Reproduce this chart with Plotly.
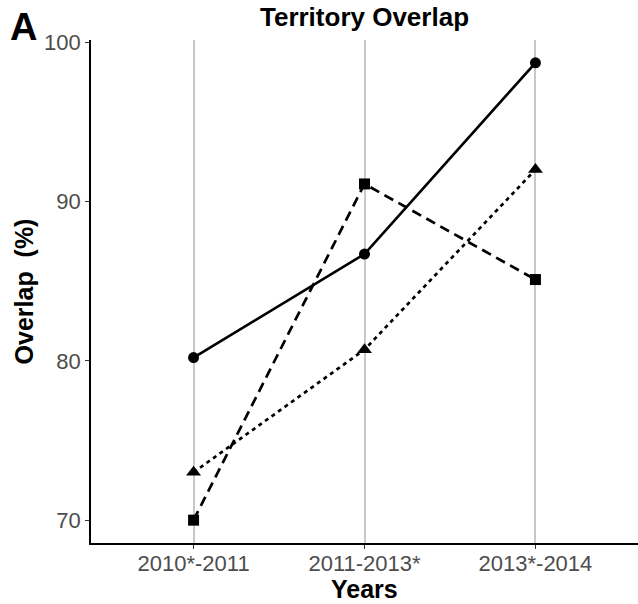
import plotly.graph_objects as go

years = ["2010*-2011", "2011-2013*", "2013*-2014"]
circle_vals = [80.2, 86.7, 98.7]
triangle_vals = [73.0, 80.7, 92.0]
square_vals = [70.0, 91.1, 85.1]
y_ticks = [70, 80, 90, 100]

series = [
    (circle_vals, "circle", "solid", 11),
    (square_vals, "square", "10px,6px", 11),
    (triangle_vals, "triangle-up", "4px,4px", 13),
]

fig = go.Figure()
for vals, sym, dash, msize in series:
    fig.add_trace(go.Scatter(
        x=years, y=vals, mode="lines+markers",
        line=dict(color="black", width=2.7, dash=dash),
        marker=dict(symbol=sym, size=msize, color="black"),
        showlegend=False,
    ))

ymin, ymax = min(square_vals), max(circle_vals)
pad = (ymax - ymin) * 0.05

plot_h = 604 - 40 - 61

fig.update_layout(
    width=638, height=604,
    margin=dict(l=91, r=0, t=40, b=61),
    paper_bgcolor="white", plot_bgcolor="white",
    font=dict(family="Liberation Sans, Arial, sans-serif", color="black"),
    title=dict(text="<b>Territory Overlap</b>", x=0.5, xref="paper",
               y=1, yref="paper", yanchor="bottom", pad=dict(b=14),
               font=dict(size=26, color="black")),
    xaxis=dict(
        type="category", range=[-0.6, 2.6],
        showgrid=True, gridcolor="#c8c8c8", gridwidth=1.6,
        showline=True, linecolor="black", linewidth=1.6,
        ticks="outside", ticklen=4, tickcolor="#333333", tickwidth=1.3,
        ticklabelstandoff=-4,
        tickfont=dict(size=22, color="#4d4d4d"),
        zeroline=False,
    ),
    yaxis=dict(
        range=[ymin - pad, ymax + pad],
        tickvals=y_ticks,
        showgrid=False,
        showline=True, linecolor="black", linewidth=1.6,
        ticks="outside", ticklen=4, tickcolor="#333333", tickwidth=1.3,
        tickfont=dict(size=22, color="#4d4d4d"),
        title=dict(text="<b>Overlap  (%)</b>", font=dict(size=25, color="black"), standoff=3),
        zeroline=False,
    ),
)

# x-axis title placed just under the tick labels
fig.add_annotation(
    text="<b>Years</b>", xref="paper", yref="paper",
    x=0.5, y=-46 / plot_h, xanchor="center", yanchor="middle",
    showarrow=False, font=dict(size=25, color="black"),
)

# panel tag
fig.add_annotation(
    text="<b>A</b>", xref="paper", yref="paper",
    x=-91 / 547, y=1 + 40 / plot_h, xanchor="left", yanchor="top",
    xshift=8, yshift=-4,
    showarrow=False, font=dict(size=38, color="black"),
)

fig.write_html("out.html")
